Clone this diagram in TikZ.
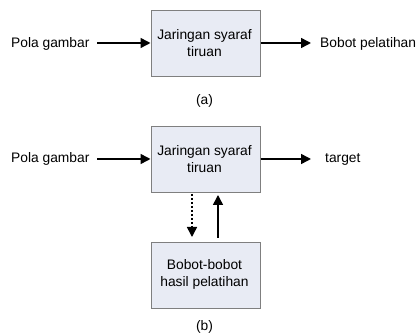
\documentclass[tikz,border=0pt]{standalone}
\usepackage{fontspec}
\setmainfont{Liberation Sans}
\usetikzlibrary{arrows.meta}
\definecolor{boxfill}{HTML}{E8EBF4}
\definecolor{boxline}{HTML}{7F7F7F}
\begin{document}
\begin{tikzpicture}[x=1pt,y=-1pt,
  blk/.style={draw=boxline,fill=boxfill,line width=1pt,minimum width=109pt,minimum height=66pt,inner sep=0pt},
  lbl/.style={inner sep=0pt,font=\fontsize{13.8}{17}\selectfont},
  arr/.style={line width=1.5pt,-{Triangle[length=10pt,width=10pt]}},
  darr/.style={line width=1.5pt,dash pattern=on 2.5pt off 1.5pt,-{Triangle[length=10pt,width=10pt]}}]
\useasboundingbox (0,0) rectangle (416,336);
% (a)
\node[blk,anchor=north west] (ja) at (150.5,10.5) {};
\node[lbl,align=center] (jat) at (204.5,43.5) {Jaringan syaraf\\tiruan};
\node[lbl,anchor=west] (pa) at (11,43.5) {Pola gambar};
\node[lbl,anchor=west] (ba) at (320,43.5) {Bobot pelatihan};
\coordinate (pa1) at (97,43);
\coordinate (ba1) at (311,43);
\draw[arr] (pa1) -- (ja.west |- pa1);
\draw[arr] (ja.east |- ba1) -- (ba1);
\node[lbl] (capa) at (204.5,101) {(a)};
% (b)
\node[blk,anchor=north west] (jb) at (150.5,126) {};
\node[lbl,align=center] (jbt) at (204.5,159.5) {Jaringan syaraf\\tiruan};
\node[lbl,anchor=west] (pb) at (11,159) {Pola gambar};
\node[lbl,anchor=west] (tb) at (325,159) {target};
\coordinate (pb1) at (97,159);
\coordinate (tb1) at (311,159);
\draw[arr] (pb1) -- (jb.west |- pb1);
\draw[arr] (jb.east |- tb1) -- (tb1);
\node[blk,anchor=north west] (bb) at (150.5,242) {};
\node[lbl,align=center] (bbt) at (204.5,274.5) {Bobot-bobot\\hasil pelatihan};
\coordinate (d1) at (192,194);
\coordinate (d2) at (192,237);
\coordinate (u1) at (218,238);
\coordinate (u2) at (218,195);
\draw[darr] (d1) -- (d2);
\draw[arr] (u1) -- (u2);
\node[lbl] (capb) at (204.5,327) {(b)};
\end{tikzpicture}
\end{document}
